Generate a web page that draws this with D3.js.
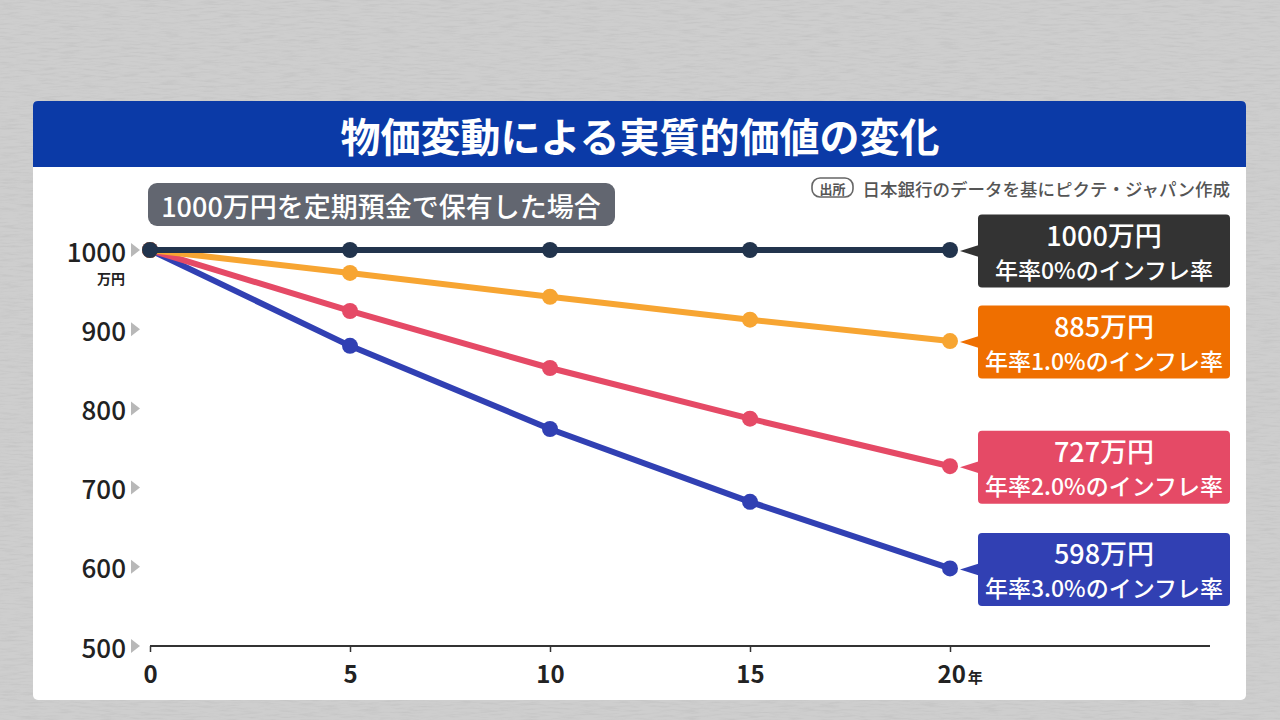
<!DOCTYPE html>
<html lang="ja">
<head>
  <meta charset="utf-8">
  <title>物価変動による実質的価値の変化</title>
  <script src="https://cdn.jsdelivr.net/npm/d3@7"></script>
  <style>
    body { margin: 0; background: #c8c8c8; }
    svg { display: block; font-family: "Noto Sans CJK JP", "Noto Sans", sans-serif; }
  </style>
</head>
<body>
<script>
  // data (万円)
  var years = [0, 5, 10, 15, 20];
  var rate0 = [1000, 1000, 1000, 1000, 1000];
  var rate1 = [1000, 971, 941, 912, 885];
  var rate2 = [1000, 923, 851, 787, 727];
  var rate3 = [1000, 879, 774, 682, 598];
  var endValues = ["1000万円", "885万円", "727万円", "598万円"];
  var rateNames = ["年率0%のインフレ率", "年率1.0%のインフレ率", "年率2.0%のインフレ率", "年率3.0%のインフレ率"];
  var yTicks = [500, 600, 700, 800, 900, 1000];
  var xTicks = [0, 5, 10, 15, 20];

  var lineColors = ["#22344d", "#f7a532", "#e54a66", "#3140b3"];
  var boxColors = ["#333333", "#ef6f00", "#e54a66", "#3140b3"];

  var series = [rate0, rate1, rate2, rate3].map(function(vals, i) {
    return {
      idx: i,
      points: vals.map(function(v, j) { return { year: years[j], value: v }; }),
      endValue: endValues[i],
      rateName: rateNames[i]
    };
  });

  var W = 1280, H = 720;
  var svg = d3.select("body").append("svg").attr("width", W).attr("height", H);

  // textured grey background
  var defs = svg.append("defs");
  var f = defs.append("filter").attr("id", "tex").attr("x", 0).attr("y", 0).attr("width", "100%").attr("height", "100%");
  f.append("feTurbulence").attr("type", "fractalNoise").attr("baseFrequency", "0.05 0.5").attr("numOctaves", 3).attr("seed", 7).attr("result", "n");
  f.append("feColorMatrix").attr("in", "n").attr("type", "matrix")
    .attr("values", "0 0 0 0 0.45  0 0 0 0 0.45  0 0 0 0 0.45  1.6 0 0 0 -0.7");
  svg.append("rect").attr("width", W).attr("height", H).attr("fill", "#cecece");
  svg.append("rect").attr("width", W).attr("height", H).attr("filter", "url(#tex)").attr("opacity", 0.5);

  // card
  var card = { x: 33, y: 101, w: 1213, h: 599 };
  svg.append("rect").attr("x", card.x).attr("y", card.y).attr("width", card.w).attr("height", card.h)
    .attr("rx", 5).attr("fill", "#ffffff");

  // title bar
  var bar = svg.append("g");
  bar.append("path")
    .attr("d", "M" + card.x + "," + (card.y + 5) + " q0,-5 5,-5 h" + (card.w - 10) + " q5,0 5,5 v61 h" + (-card.w) + " z")
    .attr("fill", "#0b3aa7");
  bar.append("text").attr("x", 640).attr("y", 135).attr("text-anchor", "middle").attr("dominant-baseline", "central")
    .attr("fill", "#fff").attr("font-size", 40).attr("font-weight", 700)
    .text("物価変動による実質的価値の変化");

  // subtitle pill
  svg.append("rect").attr("x", 148).attr("y", 183).attr("width", 467).attr("height", 43).attr("rx", 9).attr("fill", "#626670");
  svg.append("text").attr("x", 381).attr("y", 205).attr("text-anchor", "middle").attr("dominant-baseline", "central")
    .attr("fill", "#fff").attr("font-size", 27).attr("font-weight", 500)
    .text("1000万円を定期預金で保有した場合");

  // source
  svg.append("rect").attr("x", 812).attr("y", 178).attr("width", 41).attr("height", 19).attr("rx", 8)
    .attr("fill", "none").attr("stroke", "#666").attr("stroke-width", 1.6);
  svg.append("text").attr("x", 832.5).attr("y", 188).attr("text-anchor", "middle").attr("dominant-baseline", "central")
    .attr("fill", "#555").attr("font-size", 13).attr("font-weight", 700).text("出所");
  svg.append("text").attr("x", 1230).attr("y", 188).attr("text-anchor", "end").attr("dominant-baseline", "central")
    .attr("fill", "#555").attr("font-size", 17.5).attr("font-weight", 500)
    .text("日本銀行のデータを基にピクテ・ジャパン作成");

  // scales
  var x = d3.scaleLinear().domain([0, 20]).range([150, 950]);
  var y = d3.scaleLinear().domain([500, 1000]).range([646, 250]);

  // x axis
  var xAxis = svg.append("g").attr("transform", "translate(0," + y(500) + ")")
    .call(d3.axisBottom(x).tickValues(xTicks).tickSize(6).tickFormat(function(d) { return d; }));
  xAxis.select(".domain").attr("d", "M" + x(0) + ",0H1210").attr("stroke", "#333").attr("stroke-width", 2);
  xAxis.selectAll(".tick line").attr("stroke", "#333").attr("stroke-width", 1.5);
  xAxis.selectAll(".tick text").attr("y", 37).attr("dy", 0).attr("fill", "#222")
    .attr("font-size", 24).attr("font-weight", 700).attr("font-family", "'Noto Sans CJK JP', sans-serif");
  var last = xAxis.selectAll(".tick").filter(function(d) { return d === 20; }).select("text");
  last.append("tspan").attr("font-size", 15).attr("dx", 2).text("年");
  last.attr("text-anchor", "start").attr("x", -13);

  // y axis labels with grey triangles
  var yAxis = svg.append("g");
  var yt = yAxis.selectAll("g").data(yTicks).enter().append("g")
    .attr("transform", function(d) { return "translate(0," + y(d) + ")"; });
  yt.append("text").attr("x", 126).attr("y", 0).attr("text-anchor", "end").attr("dominant-baseline", "central")
    .attr("fill", "#222").attr("font-size", 26).attr("font-weight", 500).text(function(d) { return d; });
  yt.append("path").attr("d", "M131,-7L140,0L131,7Z").attr("fill", "#b8b8b8");
  yAxis.append("text").attr("x", 125).attr("y", y(1000) + 28).attr("text-anchor", "end").attr("dominant-baseline", "central")
    .attr("fill", "#222").attr("font-size", 14).attr("font-weight", 700).text("万円");

  // lines, drawn from the steepest so the dark 0% line sits on top
  var line = d3.line().x(function(d) { return x(d.year); }).y(function(d) { return y(d.value); });
  var order = series.slice().reverse();
  var sg = svg.append("g").selectAll("g").data(order).enter().append("g");
  sg.append("path").attr("d", function(d) { return line(d.points); })
    .attr("fill", "none").attr("stroke", function(d) { return lineColors[d.idx]; })
    .attr("stroke-width", 6).attr("stroke-linejoin", "round");
  sg.selectAll("circle").data(function(d) { return d.points.map(function(p) { return { p: p, idx: d.idx }; }); })
    .enter().append("circle")
    .attr("cx", function(d) { return x(d.p.year); }).attr("cy", function(d) { return y(d.p.value); })
    .attr("r", 8).attr("fill", function(d) { return lineColors[d.idx]; });

  // end labels
  var bx = 978, bw = 252, bh = 73;
  var lab = svg.append("g").selectAll("g").data(series).enter().append("g")
    .attr("transform", function(d) { return "translate(0," + (y(d.points[d.points.length - 1].value) + 1) + ")"; });
  lab.append("path").attr("d", "M" + (bx + 1) + ",-6L960,0L" + (bx + 1) + ",6Z")
    .attr("fill", function(d) { return boxColors[d.idx]; });
  lab.append("rect").attr("x", bx).attr("y", -bh / 2).attr("width", bw).attr("height", bh).attr("rx", 4)
    .attr("fill", function(d) { return boxColors[d.idx]; });
  lab.append("text").attr("x", bx + bw / 2).attr("y", -5).attr("text-anchor", "middle")
    .attr("fill", "#fff").attr("font-size", 27).attr("font-weight", 500).text(function(d) { return d.endValue; });
  lab.append("text").attr("x", bx + bw / 2).attr("y", 28).attr("text-anchor", "middle")
    .attr("fill", "#fff").attr("font-size", 23).attr("font-weight", 500).text(function(d) { return d.rateName; });
</script>
</body>
</html>
